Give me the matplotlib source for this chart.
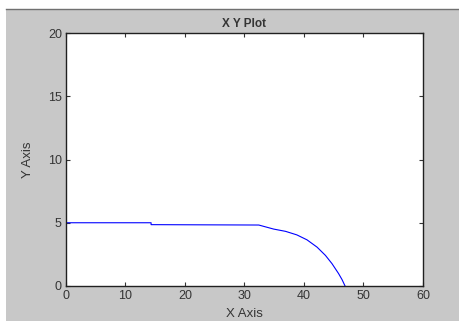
import matplotlib.pyplot as plt
from matplotlib.patches import Rectangle
from matplotlib.lines import Line2D

# curve
x_vals = [0, 14.3, 14.3, 32.4, 34.9, 36.9, 38.8, 40.5, 42.2, 43.6, 44.7, 45.8, 46.4, 46.9]
y_vals = [5.0, 5.0, 4.85, 4.82, 4.5, 4.32, 4.04, 3.65, 3.07, 2.42, 1.77, 0.99, 0.5, 0.0]

xticks = [0, 10, 20, 30, 40, 50, 60]
yticks = [0, 5, 10, 15, 20]

plt.rcParams['font.family'] = ['Liberation Sans', 'DejaVu Sans']

fig = plt.figure(figsize=(4.6, 3.21), dpi=100, facecolor='white')
W, H = 460, 321

# grey window background
fig.patches.append(Rectangle((6 / W, 0), 1 - 6 / W, (H - 9) / H,
                             transform=fig.transFigure, facecolor='#c8c8c8',
                             edgecolor='none', zorder=-10))
fig.lines.append(Line2D([6 / W, 1], [(H - 8.5) / H, (H - 8.5) / H],
                        transform=fig.transFigure, color='#707070', lw=1,
                        zorder=-9))

ax = fig.add_axes([66 / W, (H - 286) / H, (423 - 66) / W, (286 - 33) / H])
ax.plot(x_vals, y_vals, color='blue', lw=0.8)

ax.set_xlim(0, 60)
ax.set_ylim(0, 20)
ax.set_xticks(xticks)
ax.set_yticks(yticks)
ax.tick_params(direction='in', length=3, top=True, right=True,
               labelsize=9, colors='#353535', pad=3)
for s in ax.spines.values():
    s.set_color('#202020')
    s.set_linewidth(1)

ax.set_title('X Y Plot', fontsize=8.5, fontweight='bold', color='#353535', pad=4)
ax.set_xlabel('X Axis', fontsize=9.5, color='#353535', labelpad=4)
ax.set_ylabel('Y Axis', fontsize=9.5, color='#353535', labelpad=10)

plt.savefig('out.png', dpi=100)
